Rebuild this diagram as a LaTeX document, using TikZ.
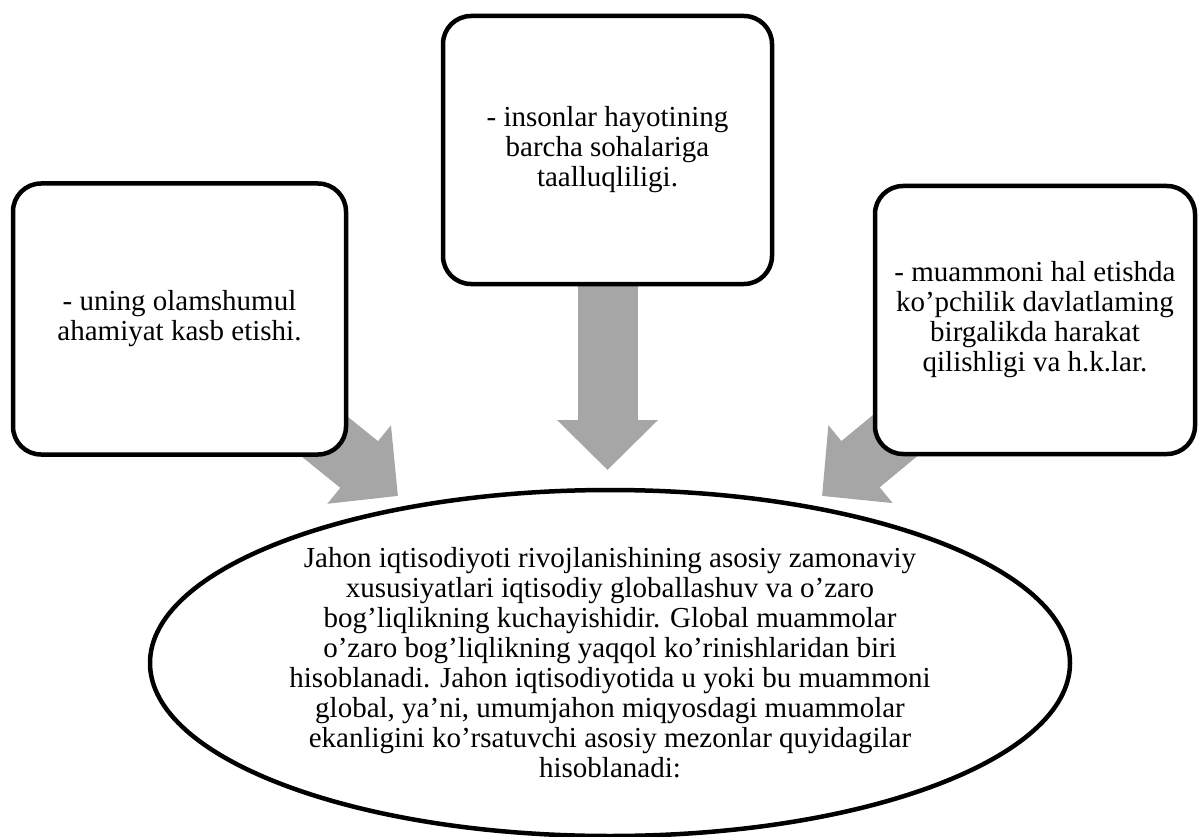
\documentclass[tikz,border=0pt]{standalone}
\usepackage{fontspec}
\setmainfont{Liberation Serif}
\usetikzlibrary{shapes.geometric,arrows.meta}
\pgfdeclarelayer{bg}
\pgfsetlayers{bg,main}
\definecolor{arrowgray}{HTML}{A6A6A6}
\newcommand\txtfont{\fontsize{29}{30}\selectfont}
\begin{document}
\begin{tikzpicture}[x=1pt,y=-1pt,
  box/.style={draw=black, line width=4.5pt, rounded corners=28pt, fill=white,
    align=center, inner sep=0pt, font=\txtfont},
  oval/.style={draw=black, ellipse, line width=4.5pt, inner sep=0pt,
    align=center, font=\txtfont},
  bigarrow/.style={draw=arrowgray, line width=60pt,
    -{Triangle[length=50pt,width=98pt]}}]
\useasboundingbox (0,0) rectangle (1199,837);

\node[box, minimum width=333pt, minimum height=271pt] (L) at (179.5,319)
  {- uning olamshumul\\ahamiyat kasb etishi.};
\node[box, minimum width=329pt, minimum height=268pt] (T) at (607.5,150)
  {- insonlar hayotining\\barcha sohalariga\\taalluqliligi.};
\node[box, minimum width=320pt, minimum height=268pt] (R) at (1035,320)
  {- muammoni hal etishda\\ko’pchilik davlatlaming\\birgalikda harakat\\qilishligi va h.k.lar.};

\node[oval, minimum width=920pt, minimum height=346pt] (E) at (610,663)
  {Jahon iqtisodiyoti rivojlanishining asosiy zamonaviy\\
   xususiyatlari iqtisodiy globallashuv va o’zaro\\
   bog’liqlikning kuchayishidir. Global muammolar\\
   o’zaro bog’liqlikning yaqqol ko’rinishlaridan biri\\
   hisoblanadi. Jahon iqtisodiyotida u yoki bu muammoni\\
   global, ya’ni, umumjahon miqyosdagi muammolar\\
   ekanligini ko’rsatuvchi asosiy mezonlar quyidagilar\\
   hisoblanadi:};

\coordinate (lt) at (398,496);
\coordinate (ct) at (607.5,470);
\coordinate (rt) at (822,496);

\begin{pgfonlayer}{bg}
  \draw[bigarrow] (L.center) -- (lt);
  \draw[bigarrow] (T.center) -- (ct);
  \draw[bigarrow] (R.center) -- (rt);
\end{pgfonlayer}
\end{tikzpicture}
\end{document}
